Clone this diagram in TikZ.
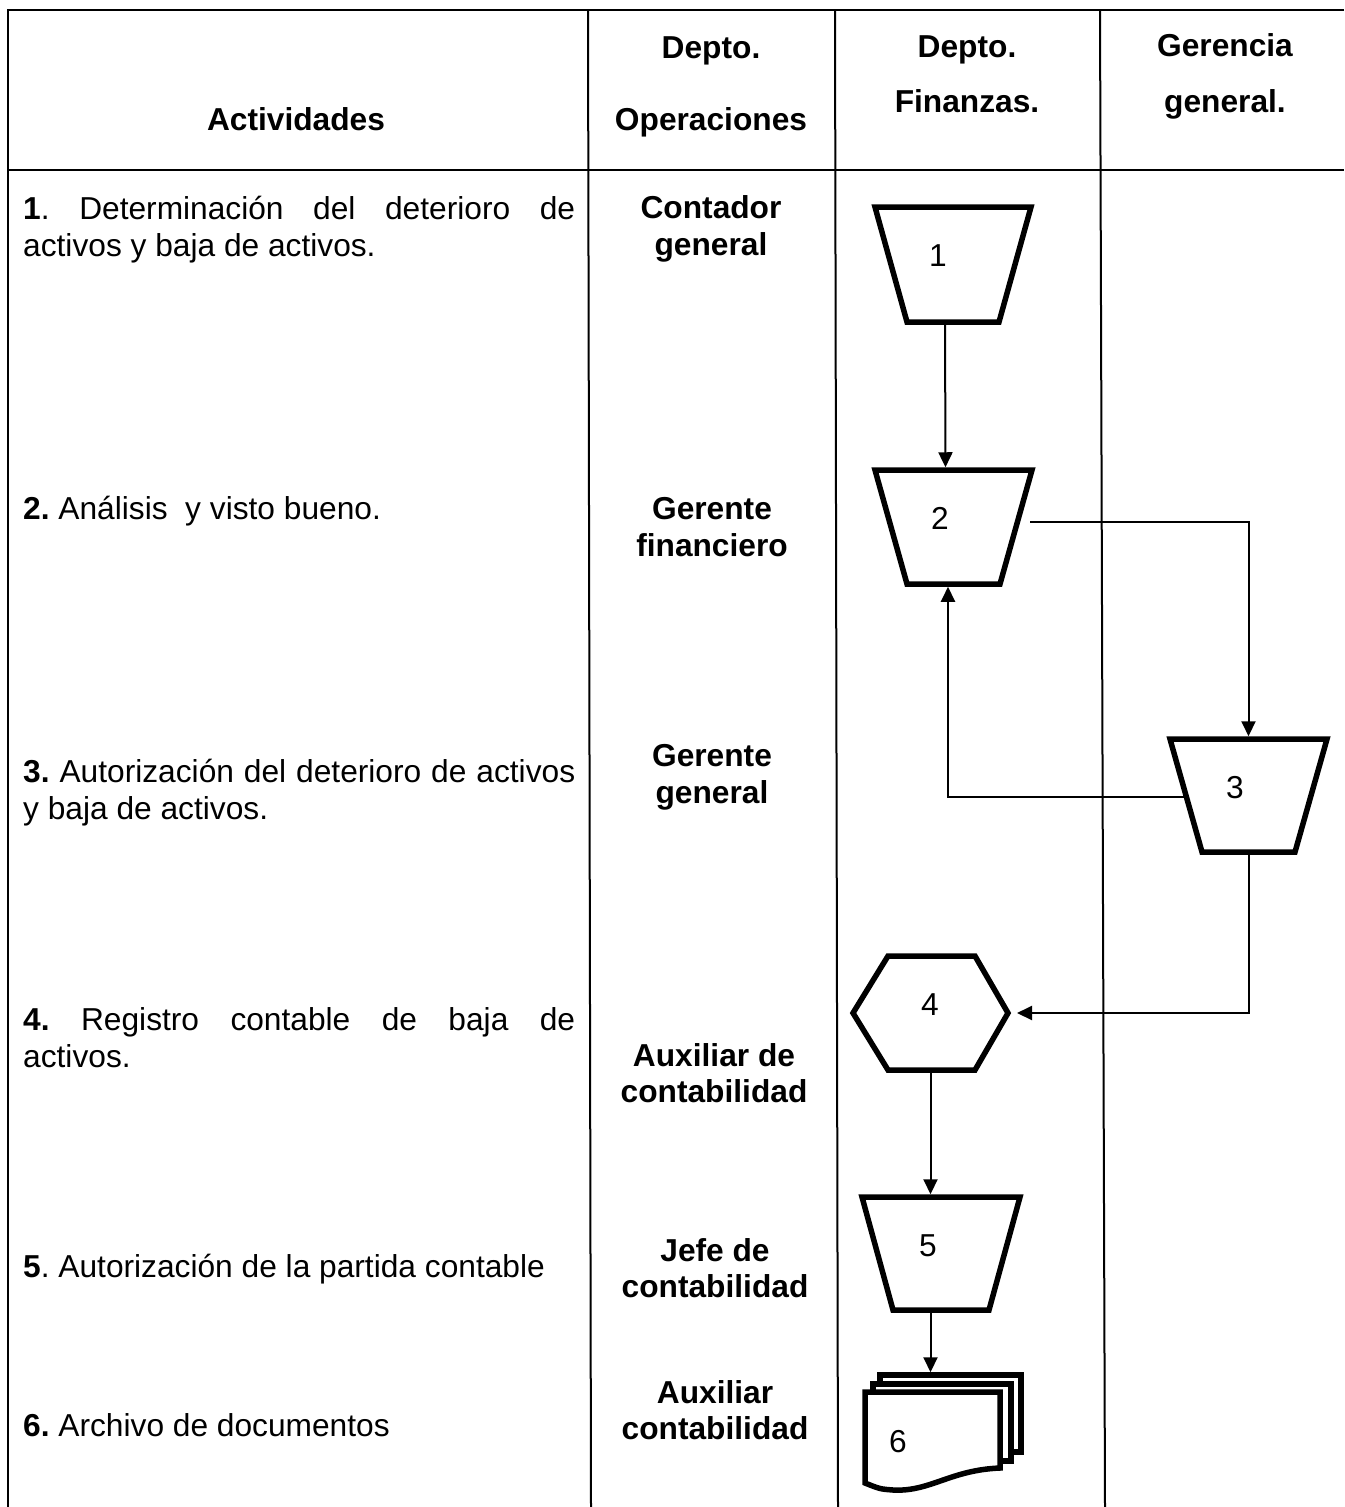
\documentclass[tikz,border=0pt]{standalone}
\usepackage{fontspec}
\setmainfont{Liberation Sans}
\usetikzlibrary{arrows.meta}
\frenchspacing
\newcommand\trapz[2]{\draw[outline] (#1.north west) -- (#1.north east) -- ([xshift=-#2]#1.south east) -- ([xshift=#2]#1.south west) -- cycle;}
\begin{document}
\begin{tikzpicture}[x=1pt,y=-1pt,
  grid/.style={line width=2pt},
  txt/.style={inner sep=0pt, font=\fontsize{31.7}{37}\selectfont},
  hdr/.style={inner sep=0pt, anchor=base, font=\fontsize{31.7}{37}\selectfont\bfseries},
  act/.style={txt, anchor=base west},
  num/.style={txt},
  shapebox/.style={inner sep=0pt, outer sep=0pt, minimum width=#1},
  outline/.style={line width=5.5pt, line join=miter},
  conn/.style={line width=2pt, -{Triangle[length=15pt,width=14pt]}},
  toshape/.style={shorten >=2.75pt},
]
\useasboundingbox (0,0) rectangle (1344,1507);

% table rules
\draw[grid] (1344,10) -- (8,10) -- (8,1507);
\draw[grid] (8,170) -- (1344,170);
\draw[grid] (588,10) -- (591,1507);
\draw[grid] (835,10) -- (838,1507);
\draw[grid] (1100,10) -- (1105,1507);

% header
\node[hdr] (hAct) at (296,130) {Actividades};
\node[hdr] (hOp1) at (711,58) {Depto.};
\node[hdr] (hOp2) at (711,130) {Operaciones};
\node[hdr] (hFi1) at (967,57) {Depto.};
\node[hdr] (hFi2) at (967,112) {Finanzas.};
\node[hdr] (hGe1) at (1225,56) {Gerencia};
\node[hdr] (hGe2) at (1225,112) {general.};

% activities
\node[act] (a1a) at (23,219) {\makebox[552pt][s]{\textbf{1}. Determinación del deterioro de}};
\node[act] (a1b) at (23,256) {activos y baja de activos.};
\node[act] (a2) at (23,519) {\textbf{2.} Análisis\ \ y visto bueno.};
\node[act] (a3a) at (23,782) {\makebox[552pt][s]{\textbf{3.} Autorización del deterioro de activos}};
\node[act] (a3b) at (23,819) {y baja de activos.};
\node[act] (a4a) at (23,1030) {\makebox[552pt][s]{\textbf{4.} Registro contable de baja de}};
\node[act] (a4b) at (23,1067) {activos.};
\node[act] (a5) at (23,1277) {\textbf{5}. Autorización de la partida contable};
\node[act] (a6) at (23,1436) {\textbf{6.} Archivo de documentos};

% responsible roles
\node[hdr] (r1a) at (711,218) {Contador};
\node[hdr] (r1b) at (711,255) {general};
\node[hdr] (r2a) at (712,519) {Gerente};
\node[hdr] (r2b) at (712,556) {financiero};
\node[hdr] (r3a) at (712,766) {Gerente};
\node[hdr] (r3b) at (712,803) {general};
\node[hdr] (r4a) at (714,1066) {Auxiliar de};
\node[hdr] (r4b) at (714,1102) {contabilidad};
\node[hdr] (r5a) at (715,1261) {Jefe de};
\node[hdr] (r5b) at (715,1297) {contabilidad};
\node[hdr] (r6a) at (715,1403) {Auxiliar};
\node[hdr] (r6b) at (715,1439) {contabilidad};

% flow symbols
\node[shapebox=156pt, minimum height=115pt] (t1) at (953,264.5) {};
\node[shapebox=157pt, minimum height=114pt] (t2) at (953.5,527) {};
\node[shapebox=157pt, minimum height=113pt] (t3) at (1248.5,795.5) {};
\node[shapebox=155pt, minimum height=114pt] (h4) at (930.5,1013) {};
\node[shapebox=158pt, minimum height=113pt] (t5) at (941,1253.5) {};
\node[shapebox=156pt, minimum height=110pt] (d6) at (943,1430) {};

\trapz{t1}{32pt}
\trapz{t2}{32pt}
\trapz{t3}{32pt}
\trapz{t5}{31pt}
\draw[outline] (h4.west) -- ([xshift=35pt]h4.north west) -- ([xshift=-33pt]h4.north east)
  -- (h4.east) -- ([xshift=-33pt]h4.south east) -- ([xshift=35pt]h4.south west) -- cycle;

% stacked documents
\draw[outline, fill=white] (880,1375) rectangle (1021,1452);
\draw[outline, fill=white] (873,1384) rectangle (1011,1461);
\draw[outline, fill=white] (865,1392) -- (1000,1392) -- (1000,1468)
  .. controls (950,1470) and (930,1492) .. (893,1490)
  .. controls (880,1489) .. (865,1483) -- cycle;

% symbol numbers
\node[num] (n1) at (938,256) {1};
\node[num] (n2) at (940,518) {2};
\node[num] (n3) at (1235,788) {3};
\node[num] (n4) at (930,1005) {4};
\node[num] (n5) at (928,1246) {5};
\node[num] (n6) at (898,1442) {6};

% connectors
\draw[conn, toshape] ([xshift=-8pt]t1.south) -- ([xshift=-8pt]t2.north);
\draw[conn, toshape] ([xshift=-2pt,yshift=5pt]t2.east) -| (t3.north);
\draw[conn, toshape] ([xshift=16pt,yshift=-1.5pt]t3.west) -| ([xshift=-5.5pt]t2.south);
\draw[conn] (t3.south) |- ([xshift=9pt]h4.east);
\draw[conn, toshape] (h4.south) -- (h4.south |- t5.north);
\draw[conn, toshape] (h4.south |- t5.south) -- (h4.south |- d6.north);
\end{tikzpicture}
\end{document}
